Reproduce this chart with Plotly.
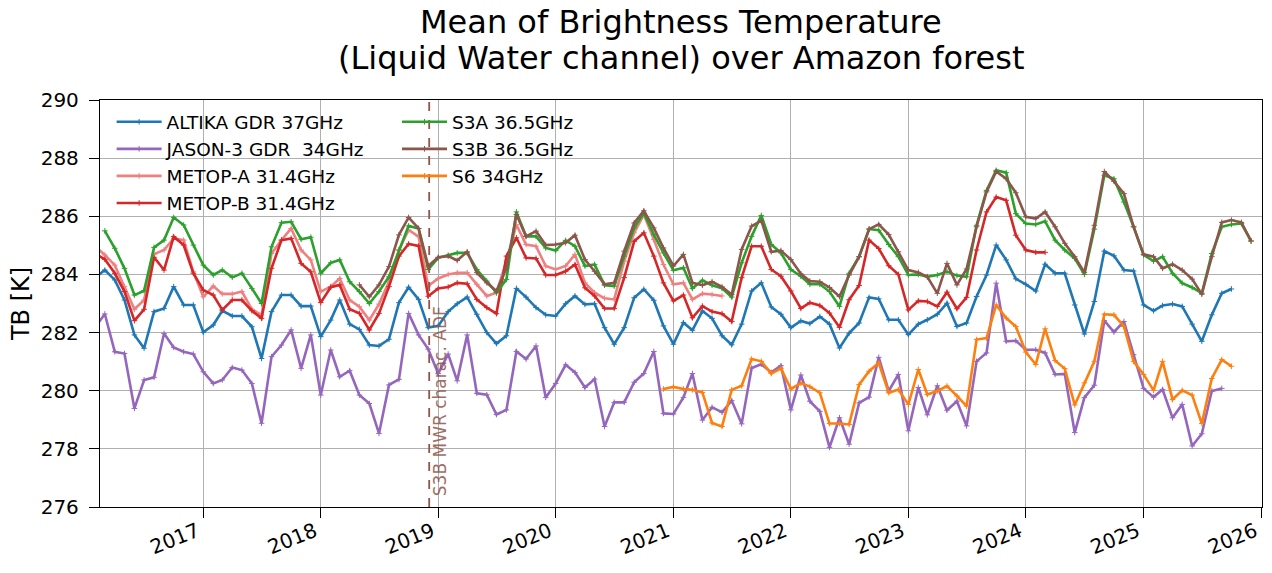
import pandas as pd
import plotly.graph_objects as go

# monthly means, first value = start month
altika_start = "2016-02-01"
altika = [
    283.9, 284.15, 283.81, 283.12, 281.92, 281.46, 282.72, 282.83, 283.58, 282.95, 282.95,
    282.01, 282.26, 282.75, 282.57, 282.57, 282.20, 281.11, 282.72, 283.29, 283.29,
    282.91, 282.91, 281.86, 282.43, 283.12, 282.29, 282.11, 281.57, 281.54, 281.77, 283.03, 283.56, 283.14,
    282.17, 282.23, 282.72, 282.99, 283.22, 282.63, 282.00, 281.62, 281.89, 283.52,
    283.22, 282.86, 282.61, 282.57, 282.99, 283.26, 282.97, 282.99, 282.17, 281.60,
    282.17, 283.20, 283.49, 283.11, 282.23, 281.60, 282.34, 282.08, 282.74, 282.49,
    281.89, 281.58, 282.29, 283.43, 283.71, 282.88, 282.63, 282.17, 282.40, 282.31,
    282.55, 282.29, 281.47, 281.98, 282.33, 283.21, 283.16, 282.44, 282.44, 281.93,
    282.29, 282.44, 282.63, 283.01, 282.21, 282.33, 283.24, 283.98, 285.01,
    284.50, 283.85, 283.66, 283.43, 284.35, 284.04, 284.04, 282.95, 281.95, 283.07,
    284.80, 284.64, 284.15, 284.12, 282.95, 282.75, 282.93, 282.98, 282.90, 282.29,
    281.70, 282.61, 283.35, 283.50,
]

jason3_start = "2016-02-01"
jason3 = [
    282.2, 282.64, 281.34, 281.28, 279.39, 280.37, 280.46, 281.97, 281.49, 281.34, 281.26,
    280.65, 280.25, 280.37, 280.80, 280.71, 280.25, 278.88, 281.17, 281.57, 282.09,
    280.77, 281.92, 279.85, 281.40, 280.48, 280.69, 279.85, 279.56, 278.53, 280.20, 280.39, 282.66, 281.92,
    281.43, 280.59, 281.26, 280.34, 281.92, 279.91, 279.86, 279.18, 279.34, 281.35,
    281.09, 281.54, 279.77, 280.25, 280.89, 280.63, 280.11, 280.40, 278.77, 279.60,
    279.60, 280.29, 280.59, 281.35, 279.22, 279.20, 279.77, 280.59, 278.99, 279.43,
    279.26, 279.66, 278.86, 280.78, 280.91, 280.63, 280.86, 279.34, 280.54,
    279.64, 279.29, 278.05, 279.07, 278.16, 279.58, 279.78, 281.15, 279.99, 280.56,
    278.62, 280.11, 279.17, 280.17, 279.33, 279.64, 278.79, 281.01, 281.30, 283.70,
    281.70, 281.72, 281.41, 281.41, 281.30, 280.56, 280.58, 278.56, 279.76, 280.19,
    282.41, 282.02, 282.38, 281.24, 280.08, 279.78, 280.04, 279.07, 279.53, 278.10,
    278.52, 279.99, 280.08,
]

metopa_start = "2016-02-01"
metopa = [
    284.95, 284.67, 284.32, 283.58, 282.80, 283.12, 284.70, 284.84, 285.24, 285.18, 284.09,
    283.23, 283.60, 283.33, 283.33, 283.41, 282.80, 282.60, 284.72, 285.18, 285.58,
    284.84, 284.50, 283.41, 283.58, 283.86, 283.12, 282.89, 282.43, 282.98, 283.75, 284.84, 285.53, 285.30,
    283.60, 283.86, 284.00, 284.06, 284.06, 283.66, 283.26, 283.37, 284.46, 285.71,
    285.03, 284.97, 284.29, 284.17, 284.29, 284.69, 283.71, 283.37, 283.18, 283.14,
    284.46, 285.43, 286.06, 285.20, 284.34, 283.66, 283.71, 283.14, 283.34, 283.31, 283.26,
]

metopb_start = "2016-02-01"
metopb = [
    284.70, 284.52, 284.04, 283.41, 282.41, 282.80, 284.59, 284.15, 285.30, 285.01, 284.04,
    283.46, 283.29, 282.78, 283.12, 283.12, 282.75, 282.49, 284.21, 285.18, 285.24,
    284.38, 284.09, 283.03, 283.56, 283.64, 282.80, 282.66, 282.09, 282.66, 283.58, 284.63, 285.05, 284.98,
    283.25, 283.52, 283.57, 283.71, 283.68, 283.14, 282.86, 282.65, 284.63, 285.26,
    284.57, 284.55, 283.98, 283.98, 284.11, 284.34, 283.54, 283.26, 282.83, 282.83,
    283.89, 285.14, 285.43, 284.63, 283.71, 283.09, 283.29, 282.51, 282.91, 282.72,
    282.65, 282.38, 283.89, 284.97, 284.97, 284.17, 283.94, 283.43, 282.83, 283.03,
    282.93, 282.67, 282.18, 283.13, 283.62, 285.18, 284.89, 284.30, 284.00, 282.78,
    283.09, 283.07, 282.90, 283.39, 282.82, 283.21, 284.84, 286.15, 286.66,
    286.55, 285.35, 284.84, 284.76, 284.76,
]

s3a_start = "2016-03-01"
s3a = [
    285.50, 284.90, 284.21, 283.29, 283.44, 284.93, 285.18, 285.96, 285.70, 285.01,
    284.32, 283.98, 284.15, 283.90, 284.04, 283.52, 283.00, 284.95, 285.78, 285.81,
    285.21, 285.28, 284.04, 284.40, 284.50, 283.75, 283.41, 283.00, 283.41, 283.92, 284.84, 285.67, 285.58,
    284.17, 284.57, 284.66, 284.74, 284.74, 284.17, 283.77, 283.37, 283.83, 286.15,
    285.31, 285.31, 284.91, 284.82, 285.17, 284.97, 284.29, 284.34, 283.63, 283.60,
    284.63, 285.60, 286.11, 285.37, 284.74, 284.14, 284.23, 283.52, 283.80, 283.63,
    283.52, 283.22, 284.40, 285.31, 286.03, 285.03, 284.74, 284.17, 283.94, 283.66,
    283.66, 283.41, 282.90, 284.04, 284.61, 285.56, 285.52, 285.03, 284.61, 283.98,
    284.00, 283.92, 283.98, 284.10, 283.96, 283.92, 285.69, 286.89, 287.58,
    287.50, 286.09, 285.75, 285.72, 285.83, 285.18, 284.84, 284.55, 284.00, 285.56,
    287.41, 287.29, 286.49, 285.64, 284.67, 284.46, 284.61, 284.04, 283.70, 283.55,
    283.35, 284.72, 285.64, 285.72, 285.75, 285.15,
]

s3b_start = "2018-05-01"
s3b = [
    283.64, 283.23, 283.64, 284.27, 285.36, 285.96, 285.58,
    284.29, 284.59, 284.63, 284.48, 284.78, 284.06, 283.71, 283.43, 284.21, 286.06,
    285.31, 285.49, 285.01, 285.03, 285.09, 285.35, 284.51, 284.11, 283.66, 283.71,
    284.80, 285.77, 286.19, 285.60, 284.91, 284.29, 284.69, 283.71, 283.63, 283.75,
    283.57, 283.31, 284.86, 285.66, 285.85, 284.78, 284.82, 284.51, 284.02, 283.77,
    283.75, 283.55, 283.24, 283.98, 284.61, 285.56, 285.72, 285.37, 284.78, 284.15,
    284.07, 283.92, 283.35, 284.38, 283.64, 284.19, 285.64, 286.84, 287.54,
    287.29, 286.81, 285.98, 285.92, 286.15, 285.64, 285.07, 284.61, 284.07, 285.69,
    287.54, 287.20, 286.78, 285.64, 284.69, 284.61, 284.21, 284.35, 284.15, 283.84,
    283.32, 284.61, 285.79, 285.87, 285.79, 285.15,
]

s6_start = "2020-12-01"
s6 = [
    280.06, 280.13, 280.06, 280.03, 279.94, 278.89, 278.77, 280.03, 280.17, 281.09,
    281.01, 280.59, 280.77, 280.06, 280.26, 280.14,
    279.93, 278.87, 278.87, 278.84, 280.21, 280.67, 280.96, 279.93, 280.04, 279.53,
    280.73, 279.87, 279.99, 280.16, 279.82, 279.47, 281.76, 281.81, 282.95,
    282.50, 282.21, 281.33, 280.90, 282.13, 281.04, 280.76, 279.51, 280.27, 281.01,
    282.63, 282.61, 282.21, 281.01, 280.56, 280.01, 281.01, 279.70, 280.01, 279.85,
    278.87, 280.42, 281.07, 280.84,
]

adf_date = "2018-12-04"
years = [str(y) for y in range(2017, 2027)]
title_lines = ["Mean of Brightness Temperature", "(Liquid Water channel) over Amazon forest"]

series = [
    ("ALTIKA GDR 37GHz", altika_start, altika, "#1f77b4", "legend"),
    ("JASON-3 GDR  34GHz", jason3_start, jason3, "#9467bd", "legend"),
    ("METOP-A 31.4GHz", metopa_start, metopa, "#f08080", "legend"),
    ("METOP-B 31.4GHz", metopb_start, metopb, "#d62728", "legend"),
    ("S3A 36.5GHz", s3a_start, s3a, "#2ca02c", "legend2"),
    ("S3B 36.5GHz", s3b_start, s3b, "#8c564b", "legend2"),
    ("S6 34GHz", s6_start, s6, "#ff7f0e", "legend2"),
]

fig = go.Figure()
for name, start, vals, color, leg in series:
    dates = pd.date_range(start, periods=len(vals), freq="MS")
    fig.add_trace(go.Scatter(
        x=dates, y=vals, name=name, mode="lines+markers", legend=leg,
        line=dict(color=color, width=2.6),
        marker=dict(symbol="cross-thin", size=4, color=color,
                    line=dict(color=color, width=1)),
    ))

fig.add_shape(type="line", x0=adf_date, x1=adf_date, yref="paper", y0=0, y1=1,
              line=dict(color="#8c564b", width=1.8, dash="dash"))
fig.add_annotation(x=adf_date, y=276, yref="y", text="S3B MWR charac. ADF",
                   textangle=-90, showarrow=False, xanchor="left", yanchor="bottom",
                   xshift=-1, yshift=9,
                   font=dict(size=17, color="#8c564b"), opacity=0.85)

# two-line title placed as annotations (plotly clips multi-line titles at the top)
for line, ypx in zip(title_lines, [22, 58]):
    fig.add_annotation(text=line, xref="paper", yref="paper", x=0.5,
                       y=1 + (100 - ypx) / 407, xanchor="center", yanchor="middle",
                       showarrow=False, font=dict(size=32))

fig.update_layout(
    width=1272, height=573,
    margin=dict(l=100, r=10, t=100, b=66, autoexpand=False),
    plot_bgcolor="white", paper_bgcolor="white",
    font=dict(family="DejaVu Sans", color="black"),
    legend=dict(x=0.01, y=0.992, xanchor="left", yanchor="top", itemwidth=45,
                bgcolor="rgba(0,0,0,0)", font=dict(size=18.5), tracegroupgap=0),
    legend2=dict(x=0.2556, y=0.992, xanchor="left", yanchor="top", itemwidth=45,
                 bgcolor="rgba(0,0,0,0)", font=dict(size=18.5), tracegroupgap=0),
    showlegend=True,
)
fig.update_xaxes(
    type="date", range=["2016-02-15", "2026-01-04"], automargin=False,
    tickvals=[y + "-01-01" for y in years], ticktext=years, tickangle=-22,
    ticklabelstandoff=-6, ticklabelshift=-6,
    ticks="outside", ticklen=10, tickcolor="black", tickfont=dict(size=20),
    showgrid=True, gridcolor="#b0b0b0", gridwidth=1,
    showline=True, linecolor="black", linewidth=1.3, mirror=True, zeroline=False,
)
fig.update_yaxes(
    range=[276, 290], dtick=2, tick0=276, automargin=False,
    ticks="outside", ticklen=10, tickcolor="black", tickfont=dict(size=20),
    ticklabelstandoff=6,
    showgrid=True, gridcolor="#b0b0b0", gridwidth=1,
    showline=True, linecolor="black", linewidth=1.3, mirror=True, zeroline=False,
    title=dict(text="TB [K]", font=dict(size=24), standoff=4),
)

fig.write_html("out.html", config={"displayModeBar": False},
               post_script="document.body.style.margin='0';")
